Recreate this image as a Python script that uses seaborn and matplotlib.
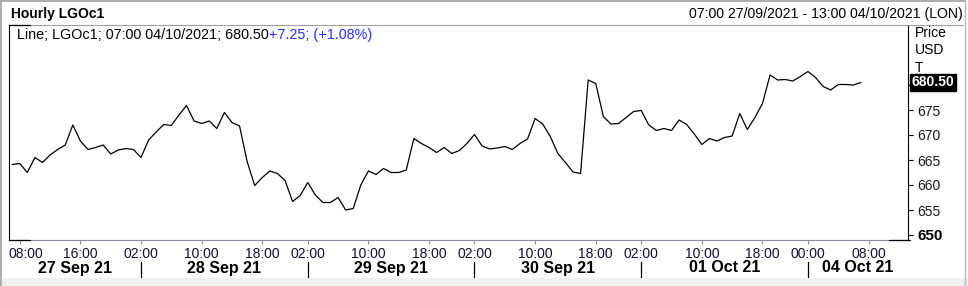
import numpy as np
import pandas as pd
import matplotlib
matplotlib.use("Agg")
import matplotlib.pyplot as plt
import matplotlib.transforms as mtransforms
from matplotlib.lines import Line2D
from matplotlib.patches import Rectangle
import seaborn as sns

# ---------------- data ----------------
# trading sessions: (day label, first bar hour, last bar hour)
sessions = [("27 Sep 21", 7, 23), ("28 Sep 21", 2, 23), ("29 Sep 21", 2, 23),
            ("30 Sep 21", 2, 23), ("01 Oct 21", 2, 23), ("04 Oct 21", 0, 13)]

# hourly closes from 07:00 27/09 to 07:00 04/10
prices = [
    664.1, 664.3, 662.5, 665.5, 664.5, 666.0, 667.1, 668.0, 672.0, 668.8,
    667.1, 667.5, 668.0, 666.2, 667.0, 667.3, 667.1, 665.5, 669.0, 670.6,
    672.1, 671.9, 674.0, 675.9, 672.8, 672.3, 672.8, 671.3, 674.5, 672.5,
    671.8, 664.7, 659.9, 661.5, 662.8, 662.3, 660.9, 656.7, 657.9, 660.5,
    658.0, 656.5, 656.5, 657.5, 655.0, 655.3, 660.0, 662.8, 662.1, 663.3,
    662.5, 662.5, 663.0, 669.3, 668.3, 667.5, 666.5, 667.5, 666.3, 666.9,
    668.3, 670.1, 667.8, 667.2, 667.4, 667.7, 667.1, 668.3, 669.2, 673.3,
    672.2, 669.7, 666.3, 664.5, 662.6, 662.3, 681.0, 680.3, 673.7, 672.2,
    672.3, 673.5, 674.7, 674.9, 672.0, 670.9, 671.3, 670.9, 673.0, 672.1,
    670.2, 668.1, 669.3, 668.8, 669.5, 669.8, 674.3, 671.1, 673.5, 676.3,
    682.0, 681.0, 681.1, 680.8, 681.7, 682.7, 681.5, 679.7, 679.0, 680.1,
    680.1, 680.0, 680.5,
]

tick_times = [("27 Sep 21", "08:00"), ("27 Sep 21", "16:00"),
              ("28 Sep 21", "02:00"), ("28 Sep 21", "10:00"), ("28 Sep 21", "18:00"),
              ("29 Sep 21", "02:00"), ("29 Sep 21", "10:00"), ("29 Sep 21", "18:00"),
              ("30 Sep 21", "02:00"), ("30 Sep 21", "10:00"), ("30 Sep 21", "18:00"),
              ("01 Oct 21", "02:00"), ("01 Oct 21", "10:00"), ("01 Oct 21", "18:00"),
              ("04 Oct 21", "00:00"), ("04 Oct 21", "08:00")]

y_ticks = [650, 655, 660, 665, 670, 675, 680]
y_labels = ["650", "655", "660", "665", "670", "675", ""]  # 680 hidden by value box

title_text = "Hourly LGOc1"
range_text = "07:00 27/09/2021 - 13:00 04/10/2021 (LON)"
legend_black = "Line; LGOc1; 07:00 04/10/2021; 680.50"
legend_blue = "+7.25; (+1.08%)"
axis_labels = ["Price", "USD", "T"]

# ---------------- build bar index ----------------
bars = []
for day, h0, h1 in sessions:
    for h in range(h0, h1 + 1):
        bars.append((day, f"{h:02d}:00"))
bar_index = {b: i for i, b in enumerate(bars)}
df = pd.DataFrame({"x": np.arange(len(prices)), "price": prices})

# ---------------- figure ----------------
sns.set_theme(style="white")
plt.rcParams["font.family"] = ["Liberation Sans", "DejaVu Sans"]
W, H = 968, 286
fig = plt.figure(figsize=(W / 100, H / 100), dpi=100)
fig.patch.set_facecolor("white")

def fx(px):
    return px / W

def fy(py):
    return 1 - py / H

ax = fig.add_axes([fx(9), fy(240), fx(908) - fx(9), fy(25) - fy(240)])
ax.set_facecolor("white")

sns.lineplot(data=df, x="x", y="price", ax=ax, color="black", lw=0.9)

ax.set_xlim(-0.42, len(bars) - 1 + 0.2)
ax.set_ylim(649, 692)
ax.set_xlabel("")
ax.set_ylabel("")

# spines
ax.spines["top"].set_visible(False)
ax.spines["bottom"].set_color("#8c8ca0")
ax.spines["bottom"].set_linewidth(0.8)
ax.spines["left"].set_color("black")
ax.spines["left"].set_linewidth(0.8)
ax.spines["right"].set_color("black")
ax.spines["right"].set_linewidth(0.8)

# y axis on the right
ax.yaxis.tick_right()
ax.set_yticks(y_ticks)
ax.set_yticklabels(y_labels)
ax.tick_params(axis="y", which="both", right=True, left=False, length=3.5,
               width=0.8, color="black", pad=3, labelsize=10, labelcolor="#1a1a1a")
for lab in ax.get_yticklabels():
    if lab.get_text() == "650":
        lab.set_fontweight("bold")
        lab.set_fontsize(11)
        lab.set_color("black")

# x ticks
xt = [bar_index[t] for t in tick_times]
ax.set_xticks(xt)
ax.set_xticklabels([t[1] for t in tick_times])
ax.tick_params(axis="x", bottom=True, length=3, width=0.8, color="#8c8ca0",
               pad=2, labelsize=10, labelcolor="#111133")
first = ax.get_xticklabels()[0]
first.set_ha("left")
first.set_transform(first.get_transform() +
                    mtransforms.ScaledTranslation(-10.8 / 100, 0, fig.dpi_scale_trans))

# day labels and separators
blend = mtransforms.blended_transform_factory(ax.transData, ax.transAxes)
day_starts = []
for day, h0, h1 in sessions:
    day_starts.append(bar_index[(day, f"{h0:02d}:00")])
xmin, xmax = ax.get_xlim()
bounds = [xmin] + day_starts[1:] + [xmax]
for k, (day, _, _) in enumerate(sessions):
    c = (bounds[k] + bounds[k + 1]) / 2
    ax.text(c, (240 - 268) / 215, day, transform=blend, ha="center", va="center",
            fontsize=11.5, fontweight="bold", color="black", clip_on=False)
for s in day_starts[1:]:
    ax.add_line(Line2D([s, s], [(240 - 262) / 215, (240 - 279) / 215], transform=blend,
                       color="black", lw=0.9, clip_on=False))

# legend text inside the plot
t1 = ax.text((17 - 9) / (908 - 9), 1 - (35 - 25) / 215, legend_black,
             transform=ax.transAxes, ha="left", va="center", fontsize=10.35, color="black")
ax.annotate(legend_blue, xycoords=t1, xy=(1, 0), va="bottom", ha="left",
            fontsize=10.35, color="#2b2bff")

# last value box
last = prices[-1]
ax.annotate(f"{last:.2f}", xy=(1.0, last), xycoords=("axes fraction", "data"),
            xytext=(3.5, 0), textcoords="offset pixels", ha="left", va="center",
            fontsize=10, fontweight="bold", color="white", zorder=10,
            annotation_clip=False,
            bbox=dict(boxstyle="square,pad=0.12", fc="black", ec="black"))

# axis unit labels
for k, s in enumerate(axis_labels):
    fig.text(fx(915), fy(33 + 17.5 * k), s, ha="left", va="center", fontsize=10,
             color="black")

# header
fig.text(fx(11), fy(14), title_text, ha="left", va="center", fontsize=10,
         fontweight="bold", color="black")
fig.text(fx(963), fy(14), range_text, ha="right", va="center", fontsize=10.2,
         color="black")

# frame lines
fig.add_artist(Line2D([fx(9), fx(963)], [fy(25), fy(25)], color="#a0a0a0", lw=0.8))
fig.add_artist(Line2D([fx(9), fx(30)], [fy(25), fy(25)], color="black", lw=0.9))
fig.add_artist(Line2D([fx(9), fx(30)], [fy(240), fy(240)], color="black", lw=0.9))
fig.add_artist(Line2D([fx(889), fx(910)], [fy(240), fy(240)], color="black", lw=0.9))
# window border and bottom band
fig.add_artist(Rectangle((0, 0), 1, fy(278), transform=fig.transFigure,
                         fc="#f0f0f0", ec="none"))
fig.add_artist(Line2D([fx(0.5), fx(965)], [fy(0.7), fy(0.7)], color="#a0a0a0", lw=1.2))
fig.add_artist(Line2D([fx(0.7), fx(0.7)], [fy(0), fy(286)], color="#a0a0a0", lw=1.2))
fig.add_artist(Line2D([fx(965), fx(965)], [fy(0), fy(286)], color="#b8b8b8", lw=1.0))

fig.savefig("out.png", dpi=100, facecolor="white")
